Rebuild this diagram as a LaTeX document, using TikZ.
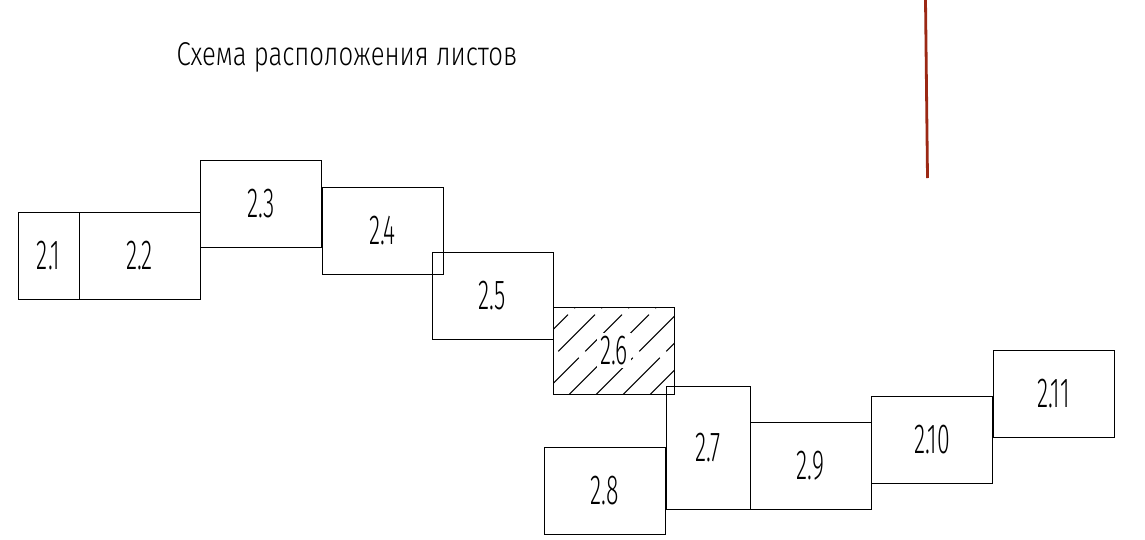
\documentclass[tikz,border=0pt]{standalone}
\usepackage{fontspec}
\newfontfamily\titlefont[FakeStretch=0.78]{Fira Sans Light}
\newfontfamily\sheetfont[FakeStretch=0.55]{Fira Sans Light}
\usepackage{tikz}
\usetikzlibrary{positioning}
\definecolor{cutred}{RGB}{155,40,20}

\begin{document}
\begin{tikzpicture}[
    x=1pt, y=-1pt,
    sheet/.style={draw, line width=0.9pt, minimum width=121pt, minimum height=87pt,
      inner sep=0pt, outer sep=0pt, font=\sheetfont\fontsize{42}{43}\selectfont},
    narrow/.style={sheet, minimum width=61pt},
    upright/.style={sheet, minimum width=84pt, minimum height=123pt},
    hatched/.style={sheet, path picture={
        \foreach \k in {-3,...,4}
          \draw[line width=0.9pt, dash pattern=on 52pt off 9pt,
            shift={(path picture bounding box.south west)}]
            (2+27*\k-30, 30) -- ++(220,-220);
      }},
    heading/.style={font=\titlefont\fontsize{33}{34}\selectfont, inner sep=0pt, anchor=base}
  ]
  \useasboundingbox (0,0) rectangle (1145,539);

  % Title
  \node[heading] (title) at (347,65) {Схема расположения листов};

  % Sheets
  \node[narrow] (sheet21) at (48.5,255.5) {2.1};
  \node[sheet, right=0pt of sheet21] (sheet22) {2.2};
  \node[sheet] (sheet23) at (261,204) {2.3};
  \node[sheet] (sheet24) at (382.5,230.5) {2.4};
  \node[sheet] (sheet25) at (492.5,296) {2.5};
  \node[hatched] (sheet26) at (614,350.5) {\colorbox{white}{2.6}};
  \node[upright] (sheet27) at (708,447.5) {2.7};
  \node[sheet] (sheet28) at (605,491) {2.8};
  \node[sheet] (sheet29) at (810.5,466) {2.9};
  \node[sheet] (sheet210) at (932,440) {2.10};
  \node[sheet] (sheet211) at (1053.5,393.5) {2.11};

  % Cut line
  \coordinate (cuttop) at (925.5,0);
  \coordinate (cutend) at (927.5,178);
  \draw[cutred, line width=2.8pt] (cuttop) -- (cutend);
\end{tikzpicture}
\end{document}
